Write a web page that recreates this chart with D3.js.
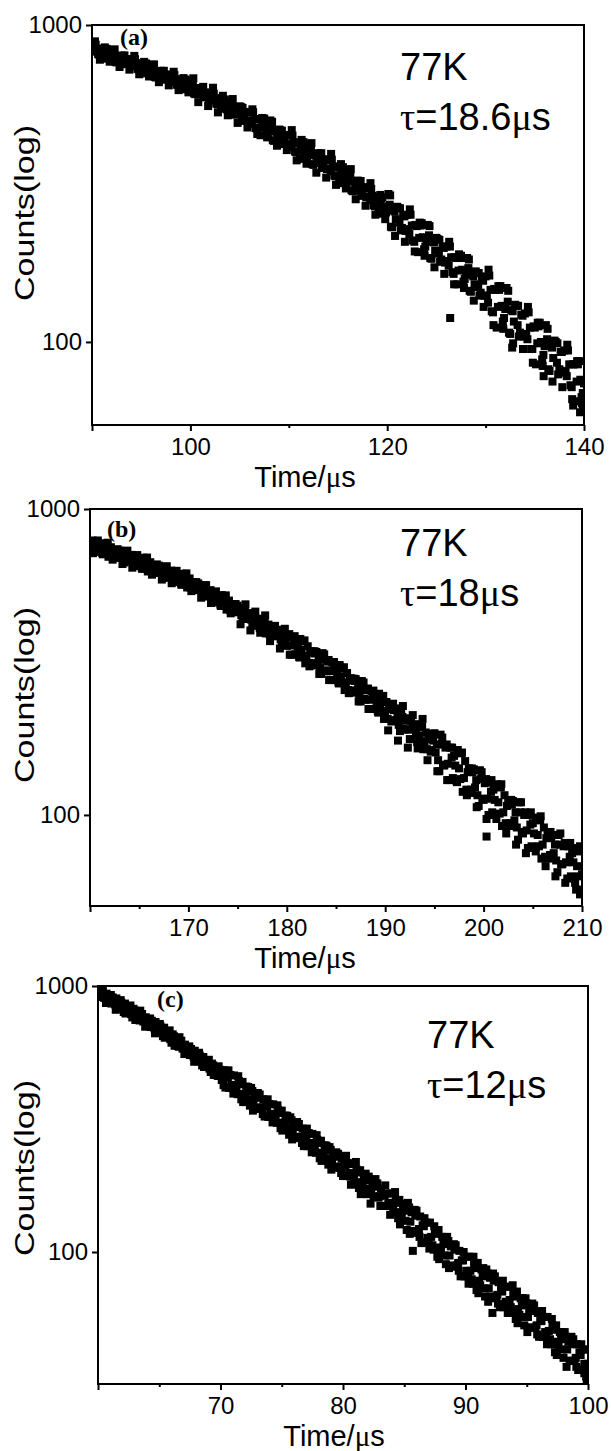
<!DOCTYPE html>
<html>
<head>
<meta charset="utf-8">
<script src="https://cdn.jsdelivr.net/npm/d3@7"></script>
<style>
  body { margin: 0; background: #fff; }
  svg { display: block; }
  text { font-family: "Liberation Sans", Arial, sans-serif; fill: #000; }
</style>
</head>
<body>
<svg id="chart" width="611" height="1451"></svg>
<script>
// 衰减曲线 (time µs, counts)
const decayA = [
  [90,868],[90.125,835],[90.25,824],[90.375,867],[90.5,842],[90.625,809],[90.75,806],[90.875,841],
  [91,838],[91.125,783],[91.25,810],[91.375,837],[91.5,841],[91.625,809],[91.75,785],[91.875,789],
  [92,801],[92.125,834],[92.25,810],[92.375,765],[92.5,762],[92.625,795],[92.75,792],[92.875,776],
  [93,801],[93.125,798],[93.25,768],[93.375,752],[93.5,756],[93.625,781],[93.75,779],[93.875,749],
  [94,781],[94.125,751],[94.25,741],[94.375,780],[94.5,757],[94.625,727],[94.75,725],[94.875,756],
  [95,753],[95.125,704],[95.25,728],[95.375,752],[95.5,756],[95.625,727],[95.75,705],[95.875,709],
  [96,719],[96.125,749],[96.25,727],[96.375,686],[96.5,683],[96.625,712],[96.75,710],[96.875,694],
  [97,717],[97.125,714],[97.25,687],[97.375,672],[97.5,676],[97.625,698],[97.75,695],[97.875,668],
  [98,696],[98.125,670],[98.25,661],[98.375,695],[98.5,674],[98.625,648],[98.75,646],[98.875,673],
  [99,671],[99.125,627],[99.25,648],[99.375,670],[99.5,673],[99.625,647],[99.75,627],[99.875,631],
  [100,640],[100.125,666],[100.25,645],[100.375,608],[100.5,605],[100.625,631],[100.75,628],[100.875,613],
  [101,633],[101.125,630],[101.25,605],[101.375,591],[101.5,594],[101.625,613],[101.75,610],[101.875,586],
  [102,610],[102.125,586],[102.25,578],[102.375,607],[102.5,588],[102.625,565],[102.75,562],[102.875,585],
  [103,582],[103.125,544],[103.25,562],[103.375,579],[103.5,582],[103.625,559],[103.75,541],[103.875,544],
  [104,551],[104.125,573],[104.25,556],[104.375,524],[104.5,521],[104.625,543],[104.75,540],[104.875,528],
  [105,554],[105.125,551],[105.25,517],[105.375,498],[105.5,503],[105.625,532],[105.75,529],[105.875,495],
  [106,531],[106.125,498],[106.25,488],[106.375,531],[106.5,505],[106.625,473],[106.75,471],[106.875,505],
  [107,503],[107.125,449],[107.25,476],[107.375,502],[107.5,507],[107.625,476],[107.75,452],[107.875,456],
  [108,468],[108.125,500],[108.25,477],[108.375,433],[108.5,431],[108.625,462],[108.75,460],[108.875,444],
  [109,468],[109.125,466],[109.25,437],[109.375,421],[109.5,426],[109.625,450],[109.75,448],[109.875,419],
  [110,449],[110.125,421],[110.25,413],[110.375,448],[110.5,427],[110.625,399],[110.75,397],[110.875,426],
  [111,423],[111.125,378],[111.25,401],[111.375,423],[111.5,427],[111.625,400],[111.75,380],[111.875,384],
  [112,394],[112.125,421],[112.25,401],[112.375,364],[112.5,362],[112.625,389],[112.75,387],[112.875,373],
  [113,394],[113.125,392],[113.25,367],[113.375,354],[113.5,357],[113.625,377],[113.75,375],[113.875,351],
  [114,376],[114.125,353],[114.25,346],[114.375,376],[114.5,358],[114.625,335],[114.75,333],[114.875,357],
  [115,355],[115.125,317],[115.25,335],[115.375,354],[115.5,356],[115.625,334],[115.75,317],[115.875,319],
  [116,327],[116.125,349],[116.25,332],[116.375,301],[116.5,299],[116.625,321],[116.75,318],[116.875,307],
  [117,323],[117.125,321],[117.25,300],[117.375,289],[117.5,292],[117.625,308],[117.75,306],[117.875,286],
  [118,306],[118.125,287],[118.25,280],[118.375,304],[118.5,289],[118.625,270],[118.75,268],[118.875,287],
  [119,285],[119.125,254],[119.25,269],[119.375,284],[119.5,286],[119.625,268],[119.75,254],[119.875,256],
  [120,262],[120.125,293],[120.25,271],[120.375,231],[120.5,230],[120.625,260],[120.75,258],[120.875,244],
  [121,267],[121.125,265],[121.25,238],[121.375,225],[121.5,229],[121.625,251],[121.75,249],[121.875,224],
  [122,252],[122.125,227],[122.25,219],[122.375,252],[122.5,233],[122.625,209],[122.75,207],[122.875,234],
  [123,232],[123.125,192],[123.25,213],[123.375,233],[123.5,237],[123.625,214],[123.75,196],[123.875,200],
  [124,209],[124.125,234],[124.25,217],[124.375,184],[124.5,183],[124.625,207],[124.75,206],[124.875,194],
  [125,213],[125.125,211],[125.25,190],[125.375,179],[125.5,182],[125.625,200],[125.75,198],[125.875,178],
  [126,200],[126.125,180],[126.25,174],[126.375,200],[126.5,185],[126.625,166],[126.75,164],[126.875,185],
  [127,184],[127.125,152],[127.25,168],[127.375,184],[127.5,187],[127.625,169],[127.75,155],[127.875,158],
  [128,165],[128.125,184],[128.25,171],[128.375,145],[128.5,144],[128.625,163],[128.75,161],[128.875,152],
  [129,167],[129.125,165],[129.25,149],[129.375,140],[129.5,143],[129.625,157],[129.75,156],[129.875,140],
  [130,161],[130.125,140],[130.25,133],[130.375,162],[130.5,146],[130.625,125],[130.75,124],[130.875,147],
  [131,146],[131.125,111],[131.25,129],[131.375,146],[131.5,150],[131.625,130],[131.75,116],[131.875,119],
  [132,127],[132.125,148],[132.25,134],[132.375,107],[132.5,106],[132.625,126],[132.75,125],[132.875,116],
  [133,131],[133.125,130],[133.25,113],[133.375,104],[133.5,107],[133.625,122],[133.75,121],[133.875,104],
  [134,123],[134.125,106],[134.25,102],[134.375,124],[134.5,111],[134.625,95],[134.75,95],[134.875,112],
  [135,111],[135.125,85],[135.25,99],[135.375,112],[135.5,115],[135.625,100],[135.75,88],[135.875,91],
  [136,97],[136.125,113],[136.25,102],[136.375,82],[136.5,81],[136.625,97],[136.75,96],[136.875,89],
  [137,101],[137.125,100],[137.25,86],[137.375,79],[137.5,82],[137.625,93],[137.75,93],[137.875,80],
  [138,94],[138.125,81],[138.25,78],[138.375,94],[138.5,85],[138.625,73],[138.75,72],[138.875,85],
  [139,85],[139.125,65],[139.25,75],[139.375,85],[139.5,87],[139.625,76],[139.75,67],[139.875,69],
  [140,74],
  [126.4,119],[132.7,96],[139.6,60],[139.9,62],[138.9,63],[135.9,78]];

// 带边缘的离散点
const edgeA = [
  [90.3,888],[90.8,777],[91.3,850],[91.8,766],[92.3,838],[92.8,737],[93.3,802],[93.8,723],[94.3,799],[94.8,699],
  [95.3,765],[95.8,688],[96.3,751],[96.8,660],[97.3,717],[97.8,645],[98.3,712],[98.8,623],[99.3,680],[99.8,613],
  [100.3,679],[100.8,571],[101.3,638],[101.8,555],[102.3,634],[102.8,530],[103.3,598],[103.8,519],[104.3,584],[104.8,491],
  [105.3,548],[105.8,475],[106.3,542],[106.8,453],[107.3,509],[107.8,442],[108.3,495],[108.8,416],[109.3,464],[109.8,403],
  [110.3,466],[110.8,374],[111.3,434],[111.8,365],[112.3,424],[112.8,342],[113.3,394],[113.8,330],[114.3,392],[114.8,313],
  [115.3,364],[115.8,305],[116.3,351],[116.8,282],[117.3,322],[117.8,269],[118.3,317],[118.8,252],[119.3,291],[119.8,244],
  [120.3,290],[120.8,216],[121.3,264],[121.8,207],[122.3,262],[122.8,193],[123.3,238],[123.8,187],[124.3,232],[124.8,172],
  [125.3,210],[125.8,164],[126.3,207],[126.8,152],[127.3,189],[127.8,148],[128.3,182],[128.8,135],[129.3,165],[129.8,129],
  [130.3,169],[130.8,113],[131.3,150],[131.8,110],[132.3,145],[132.8,99],[133.3,130],[133.8,95],[134.3,129],[134.8,86],
  [135.3,115],[135.8,84],[136.3,110],[136.8,75],[137.3,99],[137.8,72],[138.3,98],[138.8,66],[139.3,87],[139.8,64]];

const decayB = [
  [160,752],[160.125,783],[160.25,789],[160.375,753],[160.5,725],[160.625,781],[160.75,762],[160.875,726],
  [161,764],[161.125,746],[161.25,718],[161.375,773],[161.5,738],[161.625,719],[161.75,765],[161.875,698],
  [162,720],[162.125,750],[162.25,699],[162.375,729],[162.5,734],[162.625,692],[162.75,698],[162.875,727],
  [163,732],[163.125,699],[163.25,712],[163.375,686],[163.5,669],[163.625,728],[163.75,710],[163.875,677],
  [164,675],[164.125,703],[164.25,708],[164.375,675],[164.5,651],[164.625,700],[164.75,683],[164.875,651],
  [165,686],[165.125,669],[165.25,644],[165.375,693],[165.5,661],[165.625,644],[165.75,685],[165.875,625],
  [166,644],[166.125,670],[166.25,625],[166.375,651],[166.5,656],[166.625,618],[166.75,623],[166.875,648],
  [167,653],[167.125,623],[167.25,634],[167.375,611],[167.5,595],[167.625,647],[167.75,631],[167.875,602],
  [168,600],[168.125,624],[168.25,629],[168.375,600],[168.5,577],[168.625,622],[168.75,606],[168.875,578],
  [169,608],[169.125,593],[169.25,571],[169.375,614],[169.5,586],[169.625,571],[169.75,607],[169.875,554],
  [170,571],[170.125,593],[170.25,552],[170.375,574],[170.5,577],[170.625,543],[170.75,547],[170.875,568],
  [171,571],[171.125,544],[171.25,554],[171.375,533],[171.5,518],[171.625,563],[171.75,548],[171.875,522],
  [172,519],[172.125,540],[172.25,543],[172.375,517],[172.5,497],[172.625,534],[172.75,520],[172.875,495],
  [173,520],[173.125,506],[173.25,487],[173.375,523],[173.5,499],[173.625,485],[173.75,515],[173.875,469],
  [174,483],[174.125,502],[174.25,467],[174.375,486],[174.5,489],[174.625,460],[174.75,463],[174.875,481],
  [175,483],[175.125,460],[175.25,468],[175.375,450],[175.5,437],[175.625,475],[175.75,462],[175.875,440],
  [176,437],[176.125,454],[176.25,457],[176.375,435],[176.5,418],[176.625,449],[176.75,437],[176.875,415],
  [177,436],[177.125,425],[177.25,408],[177.375,438],[177.5,418],[177.625,406],[177.75,431],[177.875,392],
  [178,404],[178.125,419],[178.25,390],[178.375,406],[178.5,408],[178.625,384],[178.75,386],[178.875,401],
  [179,403],[179.125,384],[179.25,390],[179.375,375],[179.5,364],[179.625,395],[179.75,385],[179.875,366],
  [180,357],[180.125,385],[180.25,390],[180.375,358],[180.5,334],[180.625,382],[180.75,366],[180.875,335],
  [181,368],[181.125,352],[181.25,329],[181.375,376],[181.5,346],[181.625,330],[181.75,369],[181.875,313],
  [182,331],[182.125,356],[182.25,314],[182.375,339],[182.5,343],[182.625,308],[182.75,313],[182.875,337],
  [183,341],[183.125,314],[183.25,325],[183.375,304],[183.5,289],[183.625,338],[183.75,323],[183.875,297],
  [184,295],[184.125,317],[184.25,321],[184.375,295],[184.5,276],[184.625,315],[184.75,302],[184.875,276],
  [185,304],[185.125,290],[185.25,271],[185.375,309],[185.5,284],[185.625,271],[185.75,302],[185.875,256],
  [186,270],[186.125,291],[186.25,256],[186.375,276],[186.5,280],[186.625,251],[186.75,255],[186.875,274],
  [187,278],[187.125,255],[187.25,264],[187.375,247],[187.5,235],[187.625,274],[187.75,262],[187.875,240],
  [188,238],[188.125,256],[188.25,259],[188.375,238],[188.5,222],[188.625,254],[188.75,243],[188.875,222],
  [189,244],[189.125,233],[189.25,218],[189.375,249],[189.5,229],[189.625,218],[189.75,243],[189.875,206],
  [190,218],[190.125,234],[190.25,206],[190.375,222],[190.5,225],[190.625,202],[190.75,204],[190.875,220],
  [191,223],[191.125,204],[191.25,211],[191.375,197],[191.5,188],[191.625,219],[191.75,209],[191.875,192],
  [192,190],[192.125,204],[192.25,207],[192.375,190],[192.5,177],[192.625,203],[192.75,194],[192.875,177],
  [193,194],[193.125,186],[193.25,173],[193.375,198],[193.5,182],[193.625,174],[193.75,194],[193.875,164],
  [194,173],[194.125,186],[194.25,164],[194.375,177],[194.5,179],[194.625,161],[194.75,163],[194.875,175],
  [195,185],[195.125,160],[195.25,170],[195.375,151],[195.5,139],[195.625,183],[195.75,170],[195.875,146],
  [196,145],[196.125,166],[196.25,170],[196.375,147],[196.5,130],[196.625,166],[196.75,154],[196.875,132],
  [197,156],[197.125,145],[197.25,129],[197.375,163],[197.5,142],[197.625,131],[197.75,159],[197.875,119],
  [198,132],[198.125,150],[198.25,121],[198.375,138],[198.5,142],[198.625,118],[198.75,121],[198.875,138],
  [199,141],[199.125,123],[199.25,130],[199.375,116],[199.5,107],[199.625,140],[199.75,131],[199.875,113],
  [200,112],[200.125,127],[200.25,131],[200.375,113],[200.5,100],[200.625,128],[200.75,119],[200.875,102],
  [201,121],[201.125,112],[201.25,100],[201.375,126],[201.5,110],[201.625,101],[201.75,123],[201.875,92],
  [202,102],[202.125,116],[202.25,94],[202.375,107],[202.5,110],[202.625,92],[202.75,94],[202.875,108],
  [203,111],[203.125,96],[203.25,102],[203.375,91],[203.5,83],[203.625,110],[203.75,102],[203.875,88],
  [204,87],[204.125,100],[204.25,102],[204.375,89],[204.5,78],[204.625,100],[204.75,93],[204.875,79],
  [205,94],[205.125,87],[205.25,78],[205.375,98],[205.5,86],[205.625,79],[205.75,96],[205.875,72],
  [206,80],[206.125,91],[206.25,73],[206.375,84],[206.5,86],[206.625,72],[206.75,74],[206.875,84],
  [207,86],[207.125,75],[207.25,80],[207.375,71],[207.5,65],[207.625,86],[207.75,80],[207.875,69],
  [208,69],[208.125,79],[208.25,81],[208.375,70],[208.5,62],[208.625,79],[208.75,73],[208.875,63],
  [209,75],[209.125,70],[209.25,62],[209.375,78],[209.5,68],[209.625,63],[209.75,76],[209.875,57],
  [210,64],
  [209.4,57],[209.8,55],[200.3,85]];

const edgeB = [
  [160.3,717],[160.8,789],[161.3,711],[161.8,776],[162.3,683],[162.8,739],[163.3,661],[163.8,731],[164.3,643],[164.8,707],
  [165.3,637],[165.8,694],[166.3,610],[166.8,659],[167.3,588],[167.8,650],[168.3,572],[168.8,628],[169.3,565],[169.8,616],
  [170.3,539],[170.8,577],[171.3,513],[171.8,564],[172.3,493],[172.8,538],[173.3,482],[173.8,522],[174.3,456],[174.8,489],
  [175.3,420],[175.8,488],[176.3,401],[176.8,462],[177.3,394],[177.8,449],[178.3,370],[178.8,415],[179.3,350],[179.8,406],
  [180.3,334],[180.8,384],[181.3,327],[181.8,372],[182.3,306],[182.8,343],[183.3,289],[183.8,335],[184.3,276],[184.8,316],
  [185.3,269],[185.8,304],[186.3,250],[186.8,279],[187.3,235],[187.8,271],[188.3,222],[188.8,255],[189.3,216],[189.8,245],
  [190.3,189],[190.8,231],[191.3,175],[191.8,227],[192.3,166],[192.8,212],[193.3,165],[193.8,206],[194.3,151],[194.8,184],
  [195.3,139],[195.8,179],[196.3,130],[196.8,166],[197.3,128],[197.8,160],[198.3,116],[198.8,142],[199.3,106],[199.8,138],
  [200.3,97],[200.8,130],[201.3,97],[201.8,126],[202.3,87],[202.8,112],[203.3,80],[203.8,110],[204.3,75],[204.8,102],
  [205.3,76],[205.8,99],[206.3,68],[206.8,88],[207.3,63],[207.8,87],[208.3,60],[208.8,81],[209.3,60],[209.8,79]];

const decayC = [
  [60,969],[60.1,916],[60.2,910],[60.3,951],[60.4,963],[60.5,902],[60.6,906],[60.7,936],[60.8,867],[60.9,906],
  [61,900],[61.1,859],[61.2,906],[61.3,866],[61.4,852],[61.5,898],[61.6,858],[61.7,835],[61.8,822],[61.9,867],
  [62,853],[62.1,798],[62.2,859],[62.3,812],[62.4,799],[62.5,834],[62.6,813],[62.7,784],[62.8,762],[62.9,821],
  [63,808],[63.1,771],[63.2,789],[63.3,746],[63.4,742],[63.5,775],[63.6,785],[63.7,735],[63.8,739],[63.9,763],
  [64,707],[64.1,739],[64.2,734],[64.3,701],[64.4,740],[64.5,706],[64.6,694],[64.7,732],[64.8,699],[64.9,681],
  [65,669],[65.1,706],[65.2,694],[65.3,648],[65.4,697],[65.5,658],[65.6,646],[65.7,674],[65.8,655],[65.9,631],
  [66,612],[66.1,658],[66.2,647],[66.3,617],[66.4,630],[66.5,595],[66.6,591],[66.7,616],[66.8,623],[66.9,582],
  [67,583],[67.1,602],[67.2,557],[67.3,582],[67.4,578],[67.5,550],[67.6,580],[67.7,553],[67.8,543],[67.9,571],
  [68,545],[68.1,530],[68.2,521],[68.3,548],[68.4,539],[68.5,503],[68.6,541],[68.7,510],[68.8,501],[68.9,522],
  [69,508],[69.1,489],[69.2,475],[69.3,511],[69.4,503],[69.5,479],[69.6,490],[69.7,462],[69.8,459],[69.9,478],
  [70,484],[70.1,443],[70.2,449],[70.3,482],[70.4,415],[70.5,456],[70.6,453],[70.7,414],[70.8,463],[70.9,425],
  [71,413],[71.1,461],[71.2,424],[71.3,404],[71.4,392],[71.5,439],[71.6,427],[71.7,375],[71.8,436],[71.9,393],
  [72,382],[72.1,419],[72.2,400],[72.3,373],[72.4,355],[72.5,414],[72.6,403],[72.7,369],[72.8,389],[72.9,349],
  [73,346],[73.1,380],[73.2,391],[73.3,345],[73.4,350],[73.5,375],[73.6,323],[73.7,355],[73.8,353],[73.9,322],
  [74,360],[74.1,331],[74.2,322],[74.3,359],[74.4,330],[74.5,314],[74.6,306],[74.7,342],[74.8,333],[74.9,292],
  [75,340],[75.1,306],[75.2,298],[75.3,326],[75.4,311],[75.5,290],[75.6,276],[75.7,321],[75.8,313],[75.9,287],
  [76,302],[76.1,271],[76.2,269],[76.3,295],[76.4,303],[76.5,268],[76.6,271],[76.7,291],[76.8,250],[76.9,275],
  [77,273],[77.1,250],[77.2,280],[77.3,257],[77.4,250],[77.5,278],[77.6,255],[77.7,243],[77.8,236],[77.9,264],
  [78,257],[78.1,225],[78.2,262],[78.3,236],[78.4,229],[78.5,252],[78.6,241],[78.7,225],[78.8,213],[78.9,248],
  [79,242],[79.1,221],[79.2,233],[79.3,209],[79.4,208],[79.5,228],[79.6,234],[79.7,207],[79.8,210],[79.9,225],
  [80,193],[80.1,213],[80.2,211],[80.3,193],[80.4,216],[80.5,198],[80.6,192],[80.7,214],[80.8,197],[80.9,188],
  [81,182],[81.1,204],[81.2,199],[81.3,174],[81.4,203],[81.5,183],[81.6,178],[81.7,195],[81.8,186],[81.9,173],
  [82,165],[82.1,192],[82.2,187],[82.3,171],[82.4,180],[82.5,162],[82.6,161],[82.7,176],[82.8,181],[82.9,160],
  [83,162],[83.1,173],[83.2,149],[83.3,164],[83.4,163],[83.5,149],[83.6,166],[83.7,153],[83.8,149],[83.9,166],
  [84,152],[84.1,145],[84.2,141],[84.3,157],[84.4,153],[84.5,134],[84.6,157],[84.7,141],[84.8,136],[84.9,149],
  [85,143],[85.1,131],[85.2,121],[85.3,153],[85.4,147],[85.5,130],[85.6,141],[85.7,120],[85.8,118],[85.9,137],
  [86,143],[86.1,119],[86.2,122],[86.3,136],[86.4,108],[86.5,126],[86.6,125],[86.7,109],[86.8,129],[86.9,113],
  [87,109],[87.1,129],[87.2,114],[87.3,106],[87.4,102],[87.5,121],[87.6,117],[87.7,96],[87.8,121],[87.9,104],
  [88,100],[88.1,114],[88.2,107],[88.3,97],[88.4,90],[88.5,114],[88.6,110],[88.7,97],[88.8,105],[88.9,89],
  [89,88],[89.1,102],[89.2,106],[89.3,89],[89.4,91],[89.5,101],[89.6,81],[89.7,93],[89.8,93],[89.9,81],
  [90,96],[90.1,85],[90.2,81],[90.3,96],[90.4,85],[90.5,79],[90.6,76],[90.7,91],[90.8,87],[90.9,72],
  [91,91],[91.1,78],[91.2,75],[91.3,86],[91.4,81],[91.5,73],[91.6,68],[91.7,86],[91.8,83],[91.9,73],
  [92,80],[92.1,68],[92.2,67],[92.3,78],[92.4,81],[92.5,68],[92.6,69],[92.7,77],[92.8,62],[92.9,72],
  [93,71],[93.1,62],[93.2,74],[93.3,65],[93.4,63],[93.5,74],[93.6,66],[93.7,62],[93.8,59],[93.9,70],
  [94,68],[94.1,56],[94.2,71],[94.3,61],[94.4,58],[94.5,67],[94.6,63],[94.7,57],[94.8,53],[94.9,67],
  [95,64],[95.1,57],[95.2,61],[95.3,52],[95.4,52],[95.5,60],[95.6,63],[95.7,52],[95.8,53],[95.9,59],
  [96,48],[96.1,55],[96.2,55],[96.3,48],[96.4,57],[96.5,50],[96.6,48],[96.7,57],[96.8,50.5],[96.9,47],
  [97,45],[97.1,53],[97.2,51],[97.3,42],[97.4,53],[97.5,46],[97.6,44],[97.7,50],[97.8,47],[97.9,43],
  [98,40],[98.1,50],[98.2,48],[98.3,43],[98.4,46],[98.5,39],[98.6,39],[98.7,45],[98.8,47],[98.9,39],
  [99,40],[99.1,45],[99.2,36],[99.3,42],[99.4,41],[99.5,36],[99.6,43],[99.7,38],[99.8,36],[99.9,43],
  [100,38],
  [99.9,33],[99.7,35],[92.2,59],[85.7,101]];

const edgeC = [
  [60.25,991],[60.65,863],[61.05,925],[61.45,814],[61.85,885],[62.25,788],[62.65,845],[63.05,745],[63.45,808],[63.85,703],
  [64.25,755],[64.65,664],[65.05,720],[65.45,639],[65.85,681],[66.25,596],[66.65,642],[67.05,555],[67.45,593],[67.85,519],
  [68.25,561],[68.65,496],[69.05,528],[69.45,463],[69.85,499],[70.25,424],[70.65,482],[71.05,394],[71.45,458],[71.85,366],
  [72.25,417],[72.65,340],[73.05,396],[73.45,330],[73.85,375],[74.25,307],[74.65,356],[75.05,286],[75.45,325],[75.85,265],
  [76.25,308],[76.65,257],[77.05,291],[77.45,237],[77.85,275],[78.25,220],[78.65,251],[79.05,204],[79.45,237],[79.85,198],
  [80.25,230],[80.65,179],[81.05,218],[81.45,165],[81.85,197],[82.25,152],[82.65,188],[83.05,149],[83.45,178],[83.85,138],
  [84.25,168],[84.65,127],[85.05,152],[85.45,117],[85.85,144],[86.25,114],[86.65,134],[87.05,103],[87.45,125],[87.85,94],
  [88.25,113],[88.65,87],[89.05,107],[89.45,85],[89.85,100],[90.25,76],[90.65,96],[91.05,70],[91.45,87],[91.85,65],
  [92.25,83],[92.65,64],[93.05,78],[93.45,59],[93.85,75],[94.25,54],[94.65,67],[95.05,50],[95.45,64],[95.85,49],
  [96.25,60],[96.65,45],[97.05,56],[97.45,41],[97.85,50],[98.25,37],[98.65,48],[99.05,37],[99.45,45],[99.85,34]];

// 刻度
const xMajorA = [90, 100, 120, 140], xMinorA = [110, 130];
const xMajorB = [160, 170, 180, 190, 200, 210], xMinorB = [165, 175, 185, 195, 205];
const xMajorC = [60, 70, 80, 90, 100], xMinorC = [65, 75, 85, 95];
const yMajor = [100, 1000];

// 标注
const panelTags = ["(a)", "(b)", "(c)"];
const tempLabel = "77K";
const lifetimes = ["18.6", "18", "12"];

// 布局
const panels = [
  { data: decayA.concat(edgeA), xDomain: [90, 140], yMin: 54.7, xMajor: xMajorA, xMinor: xMinorA,
    left: 92, right: 584, top: 25, bottom: 425,
    tag: [120, 45], note: [400, 80], yTitle: 213, xTitle: 305 },
  { data: decayB.concat(edgeB), xDomain: [160, 210], yMin: 50.4, xMajor: xMajorB, xMinor: xMinorB,
    left: 90, right: 582, top: 509, bottom: 906,
    tag: [107, 537], note: [400, 556], yTitle: 695, xTitle: 305 },
  { data: decayC.concat(edgeC), xDomain: [60, 100], yMin: 31.9, xMajor: xMajorC, xMinor: xMinorC,
    left: 98, right: 588, top: 986, bottom: 1384,
    tag: [157, 1007], note: [427, 1048], yTitle: 1168, xTitle: 334 }
];

const svg = d3.select("#chart");
const SQ = 8;

panels.forEach((p, k) => drawPanel(p, k));

function drawPanel(p, k) {
  const x = d3.scaleLinear().domain(p.xDomain).range([p.left, p.right]);
  const y = d3.scaleLog().domain([p.yMin, 1000]).range([p.bottom, p.top]);
  const g = svg.append("g");

  // 裁剪
  g.append("clipPath").attr("id", "clip" + k)
    .append("rect")
    .attr("x", p.left).attr("y", p.top)
    .attr("width", p.right - p.left).attr("height", p.bottom - p.top);

  // 散点
  g.append("g")
    .attr("clip-path", "url(#clip" + k + ")")
    .selectAll("rect")
    .data(p.data)
    .enter()
    .append("rect")
    .attr("x", d => x(d[0]) - SQ / 2)
    .attr("y", d => y(d[1]) - SQ / 2)
    .attr("width", SQ)
    .attr("height", SQ)
    .attr("fill", "#000");

  // 坐标轴
  const xAxis = g.append("g")
    .attr("transform", "translate(0," + p.bottom + ")")
    .call(d3.axisBottom(x).tickValues(p.xMajor).tickSize(6).tickSizeOuter(0).tickPadding(7)
      .tickFormat(d => d === p.xDomain[0] ? "" : d));
  const xMinor = g.append("g")
    .attr("transform", "translate(0," + p.bottom + ")")
    .call(d3.axisBottom(x).tickValues(p.xMinor).tickSize(3).tickSizeOuter(0).tickFormat(""));
  const yAxis = g.append("g")
    .attr("transform", "translate(" + p.left + ",0)")
    .call(d3.axisLeft(y).tickValues(yMajor).tickSize(6).tickSizeOuter(0).tickPadding(4)
      .tickFormat(d3.format("d")));

  [xAxis, xMinor, yAxis].forEach(a => {
    a.selectAll(".domain").remove();
    a.selectAll("line").attr("stroke", "#000").attr("stroke-width", 2);
    a.selectAll("text").style("font-size", "24px").attr("font-family", null);
  });

  // 边框
  g.append("rect")
    .attr("x", p.left).attr("y", p.top)
    .attr("width", p.right - p.left).attr("height", p.bottom - p.top)
    .attr("fill", "none").attr("stroke", "#000").attr("stroke-width", 2);

  // 轴标题
  g.append("text")
    .attr("transform", "translate(34," + p.yTitle + ") rotate(-90)")
    .attr("text-anchor", "middle")
    .style("font-size", "28px")
    .attr("textLength", 176)
    .attr("lengthAdjust", "spacingAndGlyphs")
    .text("Counts(log)");

  const xt = g.append("text")
    .attr("x", p.xTitle).attr("y", p.bottom + 62)
    .attr("text-anchor", "middle")
    .style("font-size", "29px");
  xt.append("tspan").text("Time/");
  xt.append("tspan").style("font-family", "'Liberation Serif', 'Times New Roman', serif").text("\u03bc");
  xt.append("tspan").text("s");

  // 面板标签
  g.append("text")
    .attr("x", p.tag[0]).attr("y", p.tag[1])
    .style("font-family", "'Liberation Serif', 'Times New Roman', serif")
    .style("font-weight", "bold")
    .style("font-size", "24px")
    .text(panelTags[k]);

  // 温度与寿命
  g.append("text")
    .attr("x", p.note[0]).attr("y", p.note[1])
    .style("font-size", "38px")
    .text(tempLabel);
  const tl = g.append("text")
    .attr("x", p.note[0]).attr("y", p.note[1] + 50)
    .style("font-size", "38px");
  tl.append("tspan").style("font-family", "'Liberation Serif', 'Times New Roman', serif").text("\u03c4");
  tl.append("tspan").text("=" + lifetimes[k]);
  tl.append("tspan").style("font-family", "'Liberation Serif', 'Times New Roman', serif").text("\u03bc");
  tl.append("tspan").text("s");
}
</script>
</body>
</html>
